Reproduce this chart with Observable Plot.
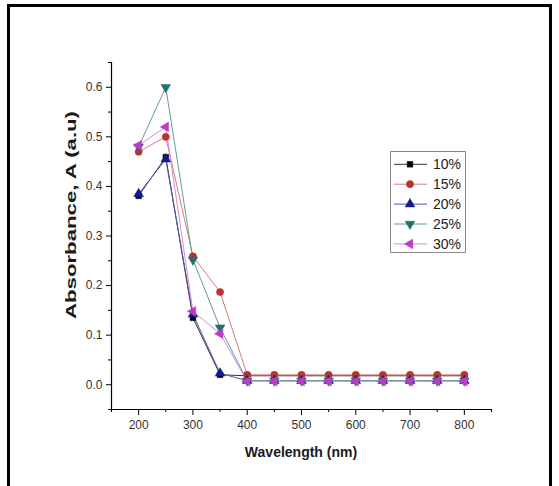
<!DOCTYPE html>
<html>
<head>
<meta charset="utf-8">
<script src="https://cdn.jsdelivr.net/npm/d3@7"></script>
<script src="https://cdn.jsdelivr.net/npm/@observablehq/plot@0.6"></script>
<style>
  html, body { margin: 0; padding: 0; background: #fff; }
  #chart svg { display: block; }
</style>
</head>
<body>
<div id="chart"></div>
<script>
// Wavelength (nm) sampled for each sample
const wavelengths = [200, 250, 300, 350, 400, 450, 500, 550, 600, 650, 700, 750, 800];

// Absorbance for each concentration
const abs10 = [0.381, 0.459, 0.135, 0.020, 0.018, 0.018, 0.018, 0.018, 0.018, 0.018, 0.018, 0.018, 0.018];
const abs15 = [0.470, 0.500, 0.259, 0.187, 0.020, 0.020, 0.020, 0.020, 0.020, 0.020, 0.020, 0.020, 0.020];
const abs20 = [0.385, 0.455, 0.142, 0.023, 0.008, 0.008, 0.008, 0.008, 0.008, 0.008, 0.008, 0.008, 0.008];
const abs25 = [0.480, 0.600, 0.252, 0.115, 0.008, 0.008, 0.008, 0.008, 0.008, 0.008, 0.008, 0.008, 0.008];
const abs30 = [0.483, 0.520, 0.148, 0.103, 0.007, 0.007, 0.007, 0.007, 0.007, 0.007, 0.007, 0.007, 0.007];

const seriesNames = ["10%", "15%", "20%", "25%", "30%"];
const seriesValues = [abs10, abs15, abs20, abs25, abs30];

// Axis ticks
const xDomain = [150, 850];
const yDomain = [-0.05, 0.65];
const xMajorTicks = [200, 300, 400, 500, 600, 700, 800];
const xMinorTicks = [150, 250, 350, 450, 550, 650, 750, 850];
const yMajorTicks = [0.0, 0.1, 0.2, 0.3, 0.4, 0.5, 0.6];
const yMinorTicks = [-0.05, 0.05, 0.15, 0.25, 0.35, 0.45, 0.55, 0.65];

// Marker shapes (area-based, like d3 symbol types)
const triUp = {draw(ctx, size) {
  const s = Math.sqrt(size * 4 / Math.sqrt(3)), h = s * Math.sqrt(3) / 2;
  ctx.moveTo(0, -2 * h / 3); ctx.lineTo(s / 2, h / 3); ctx.lineTo(-s / 2, h / 3); ctx.closePath();
}};
const triDown = {draw(ctx, size) {
  const s = Math.sqrt(size * 4 / Math.sqrt(3)), h = s * Math.sqrt(3) / 2;
  ctx.moveTo(-s / 2, -h / 3); ctx.lineTo(s / 2, -h / 3); ctx.lineTo(0, 2 * h / 3); ctx.closePath();
}};
const triLeft = {draw(ctx, size) {
  const s = Math.sqrt(size * 4 / Math.sqrt(3)), h = s * Math.sqrt(3) / 2;
  ctx.moveTo(-2 * h / 3, 0); ctx.lineTo(h / 3, -s / 2); ctx.lineTo(h / 3, s / 2); ctx.closePath();
}};

const styles = [
  {marker: "#000000", line: "#333333", symbol: d3.symbolSquare, r: 3.2},
  {marker: "#B8332C", line: "#DB7B77", symbol: d3.symbolCircle, r: 3.6},
  {marker: "#121B8A", line: "#4C57A4", symbol: triUp, r: 3.6},
  {marker: "#24706E", line: "#5E9E9C", symbol: triDown, r: 3.6},
  {marker: "#BE3CC4", line: "#D78ADB", symbol: triLeft, r: 3.6}
];

const rows = seriesNames.flatMap((name, i) =>
  wavelengths.map((w, j) => ({series: name, idx: i, wavelength: w, absorbance: seriesValues[i][j]}))
);

const marks = [];
seriesNames.forEach((name, i) => {
  const data = rows.filter(d => d.series === name);
  marks.push(Plot.line(data, {x: "wavelength", y: "absorbance", stroke: styles[i].line, strokeWidth: 1}));
});
seriesNames.forEach((name, i) => {
  const data = rows.filter(d => d.series === name);
  marks.push(Plot.dot(data, {x: "wavelength", y: "absorbance", symbol: styles[i].symbol, r: styles[i].r,
    fill: styles[i].marker, stroke: styles[i].marker, strokeWidth: 0.5}));
});

const plot = Plot.plot({
  width: 559,
  height: 486,
  marginLeft: 111,
  marginRight: 68,
  marginTop: 62,
  marginBottom: 77,
  style: {fontFamily: "'Liberation Sans', Arial, sans-serif", fontSize: "12px", color: "#333", background: "#fff"},
  x: {domain: xDomain},
  y: {domain: yDomain},
  marks: [
    Plot.axisX({ticks: xMajorTicks, tickSize: 6, tickPadding: 5, stroke: "#000", fill: "#333", label: null, tickFormat: d => d}),
    Plot.axisX({ticks: xMinorTicks, tickSize: 3, text: null, stroke: "#000", label: null}),
    Plot.axisY({ticks: yMajorTicks, tickSize: 5, tickPadding: 4, stroke: "#000", fill: "#333", label: null, tickFormat: d3.format(".1f")}),
    Plot.axisY({ticks: yMinorTicks, tickSize: 3, text: null, stroke: "#000", label: null}),
    Plot.ruleX([xDomain[0]], {stroke: "#000", strokeWidth: 1.2}),
    Plot.ruleY([yDomain[0]], {stroke: "#000", strokeWidth: 1.2}),
    ...marks
  ]
});

document.getElementById("chart").appendChild(plot);

const svg = d3.select(plot);
const fontFamily = "'Liberation Sans', Arial, sans-serif";

// Outer frame
svg.append("rect")
  .attr("x", 8.5).attr("y", 5.5).attr("width", 542).attr("height", 520)
  .attr("fill", "none").attr("stroke", "#000").attr("stroke-width", 3);

// Axis titles
svg.append("text")
  .attr("x", 301).attr("y", 457)
  .attr("text-anchor", "middle")
  .attr("font-family", fontFamily)
  .attr("font-weight", "bold").attr("font-size", 14).attr("fill", "#1a1a1a")
  .text("Wavelength (nm)");

svg.append("text")
  .attr("transform", "translate(76,215) rotate(-90)")
  .attr("text-anchor", "middle")
  .attr("font-family", fontFamily)
  .attr("font-weight", "bold").attr("font-size", 15).attr("fill", "#1a1a1a")
  .attr("textLength", 208).attr("lengthAdjust", "spacingAndGlyphs")
  .text("Absorbance, A (a.u)");

// Legend
const legend = svg.append("g").attr("text-anchor", "start");
legend.append("rect")
  .attr("x", 390.5).attr("y", 151.5).attr("width", 75).attr("height", 101)
  .attr("fill", "#fff").attr("stroke", "#8a8a8a").attr("stroke-width", 1);
seriesNames.forEach((name, i) => {
  const y = 164.3 + i * 19.9;
  legend.append("line")
    .attr("x1", 394).attr("x2", 427).attr("y1", y).attr("y2", y)
    .attr("stroke", styles[i].line).attr("stroke-width", 1);
  legend.append("path")
    .attr("transform", `translate(410,${y})`)
    .attr("d", d3.symbol(styles[i].symbol, Math.PI * styles[i].r * styles[i].r)())
    .attr("fill", styles[i].marker).attr("stroke", styles[i].marker).attr("stroke-width", 0.5);
  legend.append("text")
    .attr("x", 433).attr("y", y + 5)
    .attr("text-anchor", "start")
    .attr("font-family", fontFamily)
    .attr("font-size", 14).attr("fill", "#222")
    .text(name);
});
</script>
</body>
</html>
